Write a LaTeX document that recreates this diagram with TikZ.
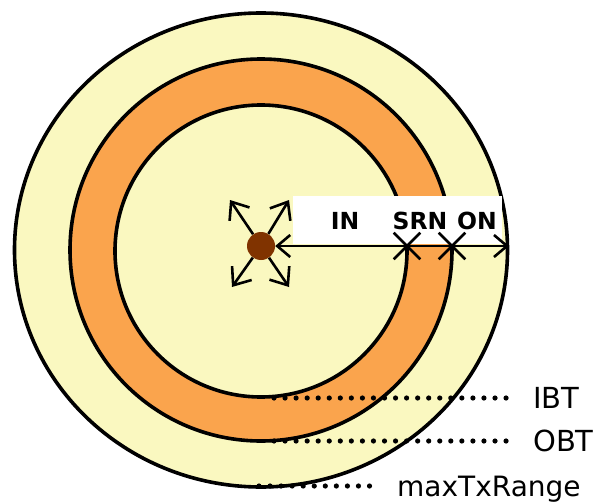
\documentclass[tikz,border=0pt]{standalone}
\usepackage{fontspec}
\setmainfont{DejaVu Sans}
\usepackage{tikz}
\usetikzlibrary{arrows.meta,shapes.misc}
\definecolor{zonepale}{RGB}{250,248,192}
\definecolor{zoneband}{RGB}{250,164,77}
\definecolor{srcbrown}{RGB}{128,51,0}

\begin{document}
\begin{tikzpicture}[
  x=1pt, y=-1pt,
  % rings: one outer range, the orange band between the two thresholds
  ring/.style={draw=black, line width=3.6pt},
  barb/.tip={Straight Barb[length=13pt, width=22pt]},
  bigbarb/.tip={Straight Barb[length=15pt, width=24pt]},
  spread/.style={-{bigbarb}, line width=2.6pt},
  span/.style={{barb}-{barb}, line width=2.6pt},
  hit/.style={cross out, draw=black, line width=2.6pt, minimum size=24pt, inner sep=0pt},
  zone/.style={font=\bfseries\fontsize{23.5}{28}\selectfont, inner sep=0pt},
  tag/.style={font=\fontsize{29}{34}\selectfont, anchor=west, inner sep=0pt, text depth=0pt},
  leader/.style={line width=5.2pt, line cap=round, dash pattern=on 0pt off 11.05pt}
]
\useasboundingbox (0,0) rectangle (597,503);

\coordinate (hub) at (261,250);
\fill[zonepale, ring] (hub) ellipse [x radius=246.5, y radius=237];
\fill[zoneband, ring] (hub) circle [radius=191];
\fill[zonepale, ring] ([yshift=-1pt]hub) circle [radius=146];

\fill[white] (293,196) rectangle (502,244);
\node[zone] (in)  at (345,221) {IN};
\node[zone] (srn) at (420,221) {SRN};
\node[zone] (on)  at (477,221) {ON};

\node[circle, fill=srcbrown, minimum size=28pt, inner sep=0pt] (src) at (261,246) {};
\foreach \tip in {(230,200), (289,200), (232,287), (289,287)}
  \draw[spread] (src) -- \tip;

\node[hit] (inedge)  at (407,246) {};
\node[hit] (outedge) at (452,246) {};
\coordinate (txedge) at (509,246);
\draw[span] (src) -- (txedge);

\node[tag] (ibt) at (533,398) {IBT};
\node[tag] (obt) at (533,441) {OBT};
\node[tag, font=\fontsize{28}{33}\selectfont] (maxtx) at (397,486) {maxTxRange};
\coordinate (ibtfoot) at (274,398);
\coordinate (obtfoot) at (274,441);
\coordinate (maxtxfoot) at (259,486);
\draw[leader, shorten >=16pt] (ibtfoot) -- (ibt);
\draw[leader, shorten >=16pt] (obtfoot) -- (obt);
\draw[leader, shorten >=27pt] (maxtxfoot) -- (maxtx);
\end{tikzpicture}
\end{document}
